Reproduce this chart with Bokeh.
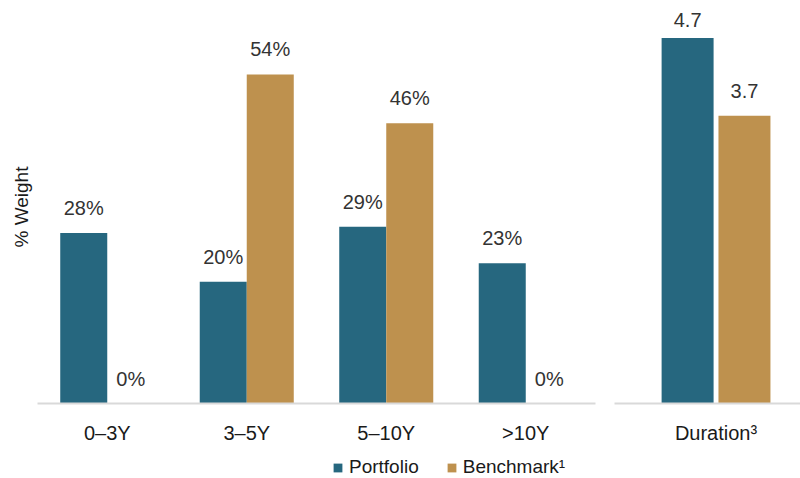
from bokeh.plotting import figure
from bokeh.models import (Range1d, FactorRange, Legend, LegendItem, Title,
                          ColumnDataSource, FixedTicker)
from bokeh.transform import dodge
from bokeh.layouts import row, column
from bokeh.embed import file_html
from bokeh.resources import INLINE
from bokeh.core.properties import value

# ---- data ----
categories = ["0–3Y", "3–5Y", "5–10Y", ">10Y"]
portfolio = [28, 20, 29, 23]
benchmark = [0, 54, 46, 0]
duration_category = ["Duration³"]
duration_portfolio = [4.7]
duration_benchmark = [3.7]
series_names = ["Portfolio", "Benchmark¹"]
y_axis_title = "% Weight"

# ---- styles ----
PORT = "#26677F"
BENCH = "#BE914E"
AXIS = "#D9D9D9"
FONT = "Liberation Sans"
H = 455
LEGEND_H = 23
LEFT_YMAX = 66.14
RIGHT_YMAX = 5.183
GAP = 25  # px offset between bar top and label anchor


def style_axis(p):
    ax = p.xaxis[0]
    ax.axis_line_color = AXIS
    ax.axis_line_width = 2
    ax.major_tick_line_color = None
    ax.minor_tick_line_color = None
    ax.major_label_text_font = FONT
    ax.major_label_text_font_size = "20px"
    ax.major_label_text_color = "#1a1a1a"
    ax.major_label_standoff = 12
    p.xgrid.grid_line_color = None
    p.ygrid.grid_line_color = None
    p.outline_line_color = None


# ---- left panel ----
src = ColumnDataSource(dict(
    cat=categories,
    portfolio=portfolio,
    benchmark=benchmark,
    plab=[f"{v}%" for v in portfolio],
    blab=[f"{v}%" for v in benchmark],
))

left = figure(width=605, height=H, x_range=FactorRange(factors=categories),
              y_range=Range1d(0, LEFT_YMAX), output_backend="svg",
              toolbar_location=None, y_axis_location=None,
              min_border_left=37, min_border_right=10, min_border_top=0,
              min_border_bottom=52)

OFF = 0.1685
W = 0.337
left.vbar(x=dodge("cat", -OFF, range=left.x_range), top="portfolio", width=W,
          source=src, fill_color=PORT, line_color=None)
left.vbar(x=dodge("cat", OFF, range=left.x_range), top="benchmark", width=W,
          source=src, fill_color=BENCH, line_color=None)
for xo, col, lab in [(-OFF, "portfolio", "plab"), (OFF, "benchmark", "blab")]:
    left.text(x=dodge("cat", xo, range=left.x_range), y=col, text=lab, source=src,
              y_offset=-GAP, text_align="center", text_baseline="alphabetic",
              text_font=value(FONT), text_font_size="20px", text_color="#333333")
style_axis(left)

left.add_layout(Title(text=y_axis_title, align="left", offset=156,
                      text_font=FONT, text_font_size="19px", text_color="#1a1a1a",
                      text_font_style="normal", standoff=12), "left")

# ---- right panel ----
RPPU = 403 / RIGHT_YMAX
dsrc = ColumnDataSource(dict(
    idx=list(range(len(duration_category))),
    portfolio=duration_portfolio,
    benchmark=duration_benchmark,
    plab=[f"{v}" for v in duration_portfolio],
    blab=[f"{v}" for v in duration_benchmark],
    py=[min(v + GAP / RPPU, RIGHT_YMAX - 19 / RPPU) for v in duration_portfolio],
    by=[min(v + GAP / RPPU, RIGHT_YMAX - 19 / RPPU) for v in duration_benchmark],
))

right = figure(width=195, height=H, x_range=Range1d(-0.5, 0.416),
               y_range=Range1d(0, RIGHT_YMAX), output_backend="svg",
               toolbar_location=None, y_axis_location=None,
               min_border_left=9, min_border_right=0, min_border_top=0,
               min_border_bottom=52)
ROFF = 0.140
RW = 0.256
right.vbar(x=dodge("idx", -ROFF), top="portfolio", width=RW, source=dsrc,
           fill_color=PORT, line_color=None)
right.vbar(x=dodge("idx", ROFF), top="benchmark", width=RW, source=dsrc,
           fill_color=BENCH, line_color=None)
for xo, ycol, lab in [(-ROFF, "py", "plab"), (ROFF, "by", "blab")]:
    right.text(x=dodge("idx", xo), y=ycol, text=lab, source=dsrc,
               text_align="center", text_baseline="alphabetic",
               text_font=value(FONT), text_font_size="20px", text_color="#333333")
style_axis(right)
right.xaxis[0].ticker = FixedTicker(ticks=list(range(len(duration_category))))
right.xaxis[0].major_label_overrides = {i: c for i, c in enumerate(duration_category)}

# ---- legend strip (its series renderers are hidden; only the legend shows) ----
leg = figure(width=800, height=LEGEND_H, x_range=Range1d(0, 1), y_range=Range1d(-2, -1),
             output_backend="svg", toolbar_location=None,
             x_axis_location=None, y_axis_location=None,
             min_border_left=0, min_border_right=0, min_border_top=0,
             min_border_bottom=0)
leg.xgrid.grid_line_color = None
leg.ygrid.grid_line_color = None
leg.outline_line_color = None
lp = leg.vbar(x=5, top="portfolio", width=0.01, source=src, fill_color=PORT,
              line_color=None, visible=False)
lb = leg.vbar(x=5, top="benchmark", width=0.01, source=src, fill_color=BENCH,
              line_color=None, visible=False)
legend = Legend(items=[LegendItem(label=series_names[0], renderers=[lp]),
                       LegendItem(label=series_names[1], renderers=[lb])],
                orientation="horizontal", location=(332, 0),
                glyph_width=11, glyph_height=11, label_standoff=6, spacing=27,
                padding=0, margin=0, border_line_color=None,
                background_fill_alpha=0, label_text_font=FONT,
                label_text_font_size="19px", label_text_color="#1a1a1a")
leg.add_layout(legend)

layout = column(row(left, right, spacing=0), leg, spacing=0)
open("out.html", "w").write(file_html(layout, INLINE))
